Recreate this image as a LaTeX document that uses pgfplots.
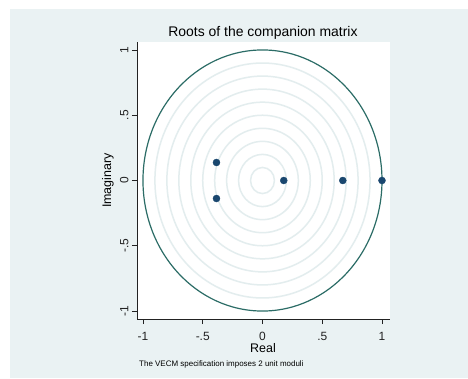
\documentclass[border=0pt]{standalone}
\usepackage{fontspec}
\setmainfont{Liberation Sans}
\usepackage{pgfplots}
\pgfplotsset{compat=1.18}
\definecolor{bgc}{HTML}{EAF2F3}
\definecolor{gridc}{HTML}{E3EDEE}
\definecolor{unitc}{HTML}{2B6C66}
\definecolor{dotc}{HTML}{1A476F}
\definecolor{axc}{HTML}{222222}
\begin{document}
\begin{tikzpicture}
\useasboundingbox (-137bp,-60bp) rectangle (331bp,319bp);
\fill[white] (-137bp,-60bp) rectangle (331bp,319bp);
\fill[bgc] (-127bp,-59bp) rectangle (331bp,310bp);
\begin{axis}[at={(0,0)}, anchor=south west, scale only axis,
  width=253bp, height=277bp,
  xmin=-1.050, xmax=1.067, ymin=-1.061, ymax=1.061,
  axis x line*=bottom, axis y line*=left,
  axis line style={axc, line width=0.9bp},
  axis background/.style={fill=white},
  tick style={axc, line width=0.9bp},
  major tick length=5bp, tick align=outside,
  xtick={-1,-0.5,0,0.5,1}, xticklabels={-1,-.5,0,.5,1},
  ytick={-1,-0.5,0,0.5,1}, yticklabels={-1,-.5,0,.5,1},
  ticklabel style={font=\fontsize{12}{12}\selectfont, text=axc},
  xticklabel style={yshift=-5bp},
  yticklabel style={rotate=90, anchor=south},
  every axis title shift=0pt,
  title={Roots of the companion matrix},
  title style={font=\fontsize{14}{14}\selectfont, at={(0.498,1.0325)}, anchor=center},
  xlabel={Real},
  xlabel style={font=\fontsize{12.5}{12.5}\selectfont, at={(0.498,-0.1045)}, anchor=center},
  ylabel={Imaginary},
  ylabel style={font=\fontsize{12.5}{12.5}\selectfont, at={(-0.1146,0.5)}, anchor=center, rotate=0},
  clip=false,
]
\pgfplotsinvokeforeach{0.1,0.2,0.3,0.4,0.5,0.6,0.7,0.8,0.9}{
  \draw[gridc, line width=1.5bp] (axis cs:0,0) ellipse [x radius=#1, y radius=#1];
}
\draw[unitc, line width=1.2bp] (axis cs:0,0) ellipse [x radius=1, y radius=1];
\addplot[only marks, mark=*, mark size=3.5bp, mark options={fill=dotc, draw=dotc}]
  coordinates {(-0.385,0.138) (-0.385,-0.138) (0.178,0) (0.672,0) (1,0)};
\node[anchor=west, font=\fontsize{8}{8}\selectfont, inner sep=0pt] at (axis description cs:0.008,-0.1625) {The VECM specification imposes 2 unit moduli};
\end{axis}
\end{tikzpicture}
\end{document}
